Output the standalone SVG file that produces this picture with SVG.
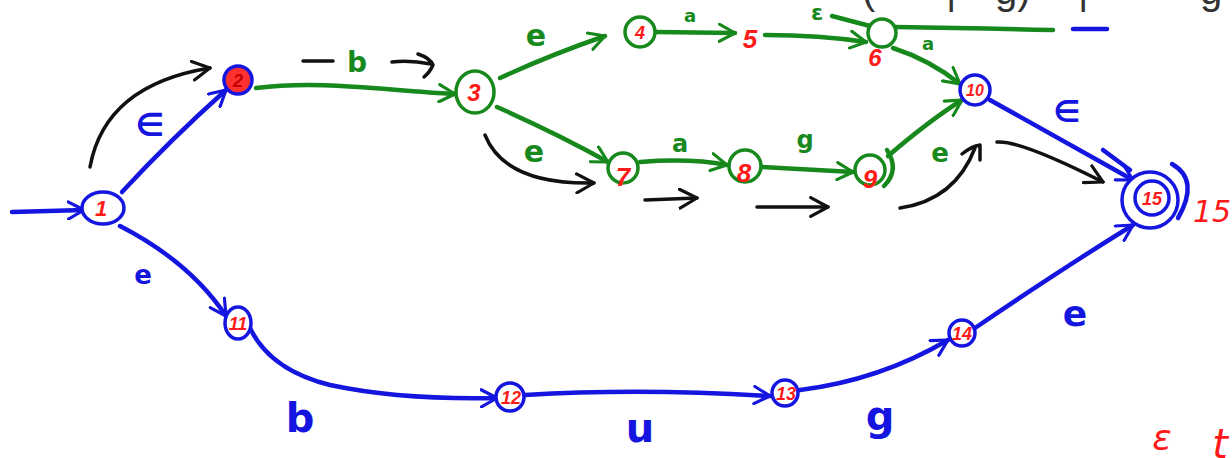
<svg xmlns="http://www.w3.org/2000/svg" width="1232" height="458" viewBox="0 0 1232 458">
<defs>
<style>
.b{fill:none;stroke:#1515e0;stroke-width:4.5;stroke-linecap:round;stroke-linejoin:round}
.g{fill:none;stroke:#17891c;stroke-width:4.5;stroke-linecap:round;stroke-linejoin:round}
.k{fill:none;stroke:#111;stroke-width:3.5;stroke-linecap:round;stroke-linejoin:round}
.nb{fill:#fff;stroke:#1515e0;stroke-width:3.5}
.ng{fill:#fff;stroke:#17891c;stroke-width:3.5}
.num{fill:#ff1a1a;font-family:"Liberation Sans",sans-serif;font-weight:bold;font-style:italic;text-anchor:middle}
.lb{fill:#1515e0;font-family:"DejaVu Sans",sans-serif;text-anchor:middle;font-weight:bold}
.lg{fill:#17891c;font-family:"DejaVu Sans",sans-serif;text-anchor:middle;font-weight:bold}
.lr{fill:#ff1a1a;font-family:"DejaVu Sans",sans-serif;text-anchor:middle;font-style:italic}
.top{fill:#333;font-family:"Liberation Sans",sans-serif;font-size:40px}
</style>
<marker id="mb" viewBox="0 0 14 14" refX="12" refY="7" markerWidth="20" markerHeight="20" markerUnits="userSpaceOnUse" orient="auto"><path d="M1,1 L12,7 L1,13" fill="none" stroke="#1515e0" stroke-width="2.2" stroke-linecap="round" stroke-linejoin="round"/></marker>
<marker id="mg" viewBox="0 0 14 14" refX="12" refY="7" markerWidth="20" markerHeight="20" markerUnits="userSpaceOnUse" orient="auto"><path d="M1,1 L12,7 L1,13" fill="none" stroke="#17891c" stroke-width="2.2" stroke-linecap="round" stroke-linejoin="round"/></marker>
<marker id="mk" viewBox="0 0 14 14" refX="12" refY="7" markerWidth="22" markerHeight="22" markerUnits="userSpaceOnUse" orient="auto"><path d="M1,1 L12,7 L1,13" fill="none" stroke="#111" stroke-width="2" stroke-linecap="round" stroke-linejoin="round"/></marker>
</defs>
<rect width="1232" height="458" fill="#fff"/>
<g id="top-text">
<text class="top" x="862" y="4">(</text>
<text class="top" x="946" y="4">|</text>
<text class="top" x="995" y="4">g)</text>
<text class="top" x="1078" y="4">|</text>
<text class="top" x="1200" y="4">g</text>
</g>
<g id="connectors">
<path class="b" d="M12,212 L84,210" marker-end="url(#mb)"/>
<path class="b" d="M122,192 Q170,140 226,90" marker-end="url(#mb)"/>
<path class="k" d="M90,167 Q105,85 210,68" marker-end="url(#mk)"/>
<path class="g" d="M256,88 C320,80 380,90 455,94" marker-end="url(#mg)"/>
<path class="k" d="M303,61 L333,61"/>
<path class="k" d="M392,62 Q410,60 431,64 M418,54 Q430,58 433,65 Q430,72 424,77"/>
<path class="g" d="M500,78 Q550,55 605,36" marker-end="url(#mg)"/>
<path class="g" d="M497,107 Q560,135 608,162" marker-end="url(#mg)"/>
<path class="k" d="M485,135 Q505,185 594,183" marker-end="url(#mk)"/>
<path class="g" d="M656,32 L735,33" marker-end="url(#mg)"/>
<path class="g" d="M765,35 Q820,35 866,42" marker-end="url(#mg)"/>
<path class="g" d="M832,16 L870,26"/>
<path class="g" d="M895,27 Q970,28 1053,30"/>
<path class="b" d="M1073,29 L1107,29"/>
<path class="g" d="M893,48 Q930,60 960,84" marker-end="url(#mg)"/>
<path class="g" d="M640,162 Q690,158 727,165" marker-end="url(#mg)"/>
<path class="g" d="M762,167 L853,172" marker-end="url(#mg)"/>
<path class="g" d="M888,156 Q930,120 962,100" marker-end="url(#mg)"/>
<path class="b" d="M990,100 L1133,180" marker-end="url(#mb)"/>
<path class="b" d="M1103,150 L1130,170"/>
<path class="k" d="M997,142 Q1020,140 1103,182" marker-end="url(#mk)"/>
<path class="k" d="M900,208 Q955,200 975,148 M962,154 Q972,146 980,145 L980,160"/>
<path class="k" d="M645,200 L697,198" marker-end="url(#mk)"/>
<path class="k" d="M757,207 L828,207" marker-end="url(#mk)"/>
<path class="b" d="M120,226 Q190,262 226,316" marker-end="url(#mb)"/>
<path class="b" d="M250,328 Q270,370 330,385 Q400,400 497,398" marker-end="url(#mb)"/>
<path class="b" d="M525,395 Q640,388 770,396" marker-end="url(#mb)"/>
<path class="b" d="M800,390 Q880,380 948,340" marker-end="url(#mb)"/>
<path class="b" d="M975,328 Q1060,270 1133,225" marker-end="url(#mb)"/>
</g>
<g id="labels">
<text class="lb" x="150" y="136" font-size="32">∈</text>
<text class="lg" x="357" y="72" font-size="28">b</text>
<text class="lg" x="536" y="46" font-size="30">e</text>
<text class="lg" x="534" y="162" font-size="30">e</text>
<text class="lg" x="690" y="22" font-size="18">a</text>
<text class="lg" x="817" y="20" font-size="22">ε</text>
<text class="lg" x="928" y="50" font-size="18">a</text>
<text class="lg" x="680" y="152" font-size="24">a</text>
<text class="lg" x="805" y="148" font-size="24">g</text>
<text class="lg" x="940" y="162" font-size="26">e</text>
<text class="lb" x="1067" y="122" font-size="30">∈</text>
<text class="lb" x="143" y="284" font-size="26">e</text>
<text class="lb" x="300" y="432" font-size="40">b</text>
<text class="lb" x="640" y="442" font-size="40">u</text>
<text class="lb" x="880" y="430" font-size="40">g</text>
<text class="lb" x="1075" y="326" font-size="36">e</text>
<text class="lr" x="1212" y="222" font-size="30">15</text>
<text class="lr" x="1162" y="450" font-size="36">ε</text>
<text class="lr" x="1220" y="458" font-size="40">t</text>
</g>
<g id="n1"><ellipse class="nb" cx="103" cy="208" rx="21" ry="16"/><text class="num" x="101" y="216" font-size="22">1</text></g>
<g id="n2"><circle class="nb" cx="238" cy="80" r="14" style="fill:#ff3030"/><text class="num" x="238" y="87" font-size="18" style="fill:#c00000">2</text></g>
<g id="n3"><ellipse class="ng" cx="475" cy="92" rx="19" ry="21"/><text class="num" x="474" y="101" font-size="24">3</text></g>
<g id="n4"><circle class="ng" cx="640" cy="32" r="15"/><text class="num" x="640" y="39" font-size="18">4</text></g>
<g id="n5"><text class="num" x="750" y="48" font-size="26">5</text></g>
<g id="n6"><circle class="ng" cx="882" cy="33" r="14"/><text class="num" x="875" y="66" font-size="24">6</text></g>
<g id="n7"><circle class="ng" cx="623" cy="168" r="15"/><text class="num" x="623" y="186" font-size="26">7</text></g>
<g id="n8"><circle class="ng" cx="745" cy="166" r="16"/><text class="num" x="744" y="182" font-size="26">8</text></g>
<g id="n9"><circle class="ng" cx="870" cy="170" r="15"/><path class="g" d="M887,150 Q900,170 884,186" stroke-width="2"/><text class="num" x="870" y="188" font-size="26">9</text></g>
<g id="n10"><circle class="nb" cx="975" cy="90" r="15"/><text class="num" x="975" y="96" font-size="16">10</text></g>
<g id="n11"><ellipse class="nb" cx="238" cy="323" rx="13" ry="16"/><text class="num" x="238" y="330" font-size="18">11</text></g>
<g id="n12"><circle class="nb" cx="510" cy="397" r="14"/><text class="num" x="511" y="404" font-size="18">12</text></g>
<g id="n13"><circle class="nb" cx="785" cy="393" r="13"/><text class="num" x="786" y="400" font-size="18">13</text></g>
<g id="n14"><circle class="nb" cx="962" cy="333" r="13"/><text class="num" x="962" y="340" font-size="18">14</text></g>
<g id="n15"><circle class="nb" cx="1150" cy="200" r="28"/><circle class="nb" cx="1152" cy="198" r="17"/><path class="b" d="M1172,164 Q1200,180 1178,218" stroke-width="3"/><text class="num" x="1152" y="205" font-size="18">15</text></g>
</svg>
